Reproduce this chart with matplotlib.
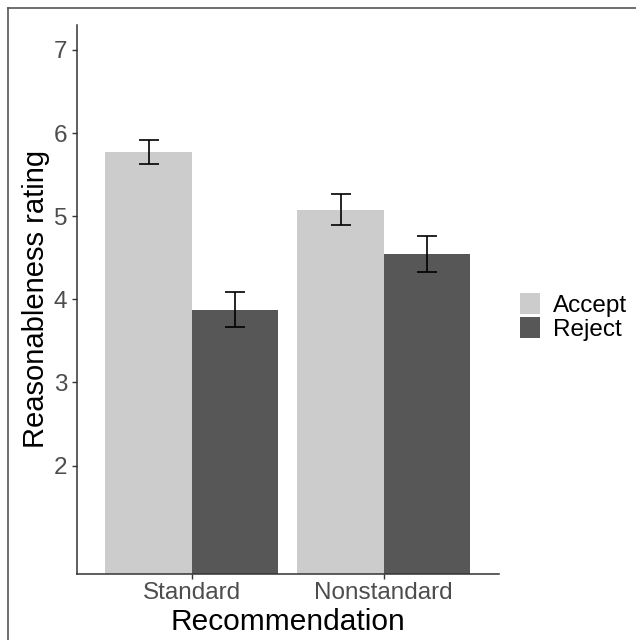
import matplotlib
matplotlib.use("Agg")
import matplotlib.pyplot as plt
from matplotlib.lines import Line2D
import numpy as np

plt.rcParams['font.family'] = ['Liberation Sans', 'DejaVu Sans']

# data
recommendations = ["Standard", "Nonstandard"]
groups = ["Accept", "Reject"]
accept_means = [5.77, 5.08]
accept_lo = [5.63, 4.89]
accept_hi = [5.92, 5.27]
reject_means = [3.87, 4.54]
reject_lo = [3.67, 4.33]
reject_hi = [4.09, 4.76]

colors = {"Accept": "#cccccc", "Reject": "#575757"}

fig = plt.figure(figsize=(6.36, 6.4), dpi=100)
ax = fig.add_axes([76.5 / 636, 1 - 573.7 / 640, (499 - 76.5) / 636, (573.7 - 25) / 640])

x = np.arange(len(recommendations))
w = 0.45
series = [
    ("Accept", accept_means, accept_lo, accept_hi, x - w / 2),
    ("Reject", reject_means, reject_lo, reject_hi, x + w / 2),
]
handles = []
for name, means, lo, hi, pos in series:
    means = np.array(means)
    yerr = [means - np.array(lo), np.array(hi) - means]
    b = ax.bar(pos, means, width=w, color=colors[name], label=name, zorder=1)
    handles.append(b)
    ax.errorbar(pos, means, yerr=yerr, fmt='none', ecolor='black',
                elinewidth=1.2, capsize=7.2, capthick=1.2, zorder=2)

ax.set_xlim(-0.6, 1.6)
ax.set_ylim(0.7, 7.3)
ax.set_yticks([2, 3, 4, 5, 6, 7])
ax.set_xticks(x)
ax.set_xticklabels(recommendations)

for side in ["top", "right"]:
    ax.spines[side].set_visible(False)
for side in ["left", "bottom"]:
    ax.spines[side].set_color("#333333")
    ax.spines[side].set_linewidth(1.1)

ax.tick_params(axis='both', colors="#333333", length=3.5, width=1.0,
               labelsize=17.5, labelcolor="#4d4d4d")
ax.tick_params(axis='y', pad=3.0)
ax.tick_params(axis='x', pad=2.5)

ax.set_xlabel("Recommendation", fontsize=21.5, color="black", labelpad=3)
ax.set_ylabel("Reasonableness rating", fontsize=21, color="black", labelpad=2.5)

ax.legend(handles=handles, labels=groups, loc='center left',
          bbox_to_anchor=(520 / 636, 1 - 317 / 640), bbox_transform=fig.transFigure,
          frameon=False, fontsize=17.5, borderpad=0, borderaxespad=0,
          handlelength=0.84, handleheight=0.95, handletextpad=0.5, labelspacing=0.0)

# thin frame around the picture (top and left edges)
fig.add_artist(Line2D([7.5 / 636, 1], [1 - 7.5 / 640, 1 - 7.5 / 640],
                      transform=fig.transFigure, color="#555555", lw=1.2))
fig.add_artist(Line2D([7.5 / 636, 7.5 / 636], [0, 1 - 7.5 / 640],
                      transform=fig.transFigure, color="#555555", lw=1.2))

fig.savefig("out.png", dpi=100)
